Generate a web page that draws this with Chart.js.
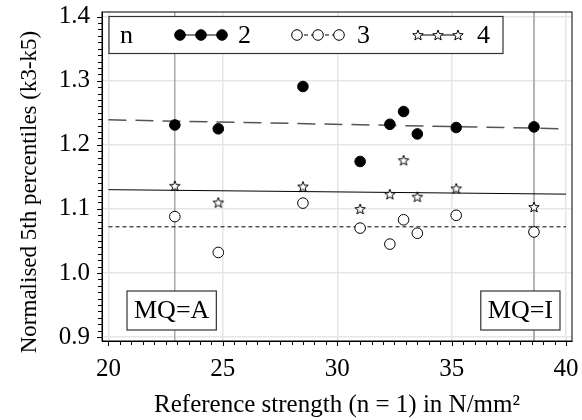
<!DOCTYPE html>
<html>
<head>
<meta charset="utf-8">
<script src="https://cdn.jsdelivr.net/npm/chart.js@4.4.1/dist/chart.umd.min.js"></script>
<style>
  html, body { margin: 0; padding: 0; background: #fff; }
  #wrap { width: 582px; height: 420px; }
</style>
</head>
<body>
<div id="wrap"><canvas id="chart" width="582" height="420"></canvas></div>
<script>
// reference strength (x) for each test series
const strength = [22.9, 24.8, 28.5, 31.0, 32.3, 32.9, 33.5, 35.2, 38.6];
// normalised 5th percentiles for n = 2, 3, 4
const n2 = [1.231, 1.225, 1.291, 1.174, 1.232, 1.252, 1.217, 1.227, 1.228];
const n3 = [1.088, 1.032, 1.109, 1.070, 1.045, 1.083, 1.062, 1.090, 1.064];
const n4 = [1.136, 1.110, 1.135, 1.100, 1.123, 1.176, 1.119, 1.132, 1.103];
// fitted trend lines
const fitX = [20, 40];
const fit2 = [1.239, 1.225];
const fit3 = [1.072, 1.072];
const fit4 = [1.130, 1.123];
// axis ticks
const xTicks = [20, 25, 30, 35, 40];
const yTicks = [0.9, 1.0, 1.1, 1.2, 1.3, 1.4];
// machine grade markers
const mqX = [22.9, 38.6];
const mqLabels = ['MQ=A', 'MQ=I'];
const legendLabels = ['n', '2', '3', '4'];
const yTitle = 'Normalised 5th percentiles (k3-k5)';

const FONT = '"Liberation Serif", "Times New Roman", serif';

function pts(xs, ys) {
  return xs.map((x, i) => ({ x: x, y: ys[i] }));
}

// 5 point outline star used as point style
function makeStar(r) {
  const c = document.createElement('canvas');
  const s = Math.ceil(r * 2 + 3);
  c.width = s; c.height = s;
  const g = c.getContext('2d');
  starPath(g, s / 2, s / 2 + 0.5, r);
  g.fillStyle = '#fff';
  g.fill();
  g.strokeStyle = '#000';
  g.lineWidth = 1;
  g.stroke();
  return c;
}

function starPath(g, cx, cy, r) {
  g.beginPath();
  for (let i = 0; i < 10; i++) {
    const rad = i % 2 === 0 ? r : r * 0.42;
    const a = -Math.PI / 2 + i * Math.PI / 5;
    const px = cx + rad * Math.cos(a);
    const py = cy + rad * Math.sin(a);
    if (i === 0) g.moveTo(px, py); else g.lineTo(px, py);
  }
  g.closePath();
}

const star = makeStar(5.5);

function drawMarker(ctx, kind, x, y) {
  if (kind === 'star') {
    ctx.drawImage(star, x - star.width / 2, y - star.height / 2);
    return;
  }
  ctx.beginPath();
  ctx.arc(x, y, 5.3, 0, Math.PI * 2);
  ctx.fillStyle = kind === 'filled' ? '#000' : '#fff';
  ctx.fill();
  ctx.strokeStyle = '#000';
  ctx.lineWidth = 1;
  ctx.stroke();
}

// drop the automatic label overflow padding so the plot area keeps its size
function noPad(scale) {
  scale.paddingTop = 0;
  scale.paddingBottom = 0;
  scale.paddingLeft = 0;
  scale.paddingRight = 0;
}

const extras = {
  id: 'extras',
  beforeDatasetsDraw(chart) {
    const { ctx, chartArea: ca, scales } = chart;
    ctx.save();
    // vertical MQ reference lines
    mqX.forEach((v, i) => {
      const px = scales.x.getPixelForValue(v);
      ctx.strokeStyle = i === 0 ? '#808080' : '#b4b4b4';
      ctx.lineWidth = i === 0 ? 1 : 2;
      ctx.beginPath();
      ctx.moveTo(px, ca.top);
      ctx.lineTo(px, ca.bottom);
      ctx.stroke();
    });
    ctx.restore();
  },
  afterDatasetsDraw(chart) {
    const { ctx, chartArea: ca, scales } = chart;
    ctx.save();

    // frame
    ctx.strokeStyle = '#000';
    ctx.lineWidth = 1;
    ctx.strokeRect(ca.left, ca.top, ca.right - ca.left, ca.bottom - ca.top);

    // tick marks (major + minor)
    ctx.beginPath();
    for (let i = 0; i <= 40; i++) {
      const v = 20 + i * 0.5;
      const px = Math.round(scales.x.getPixelForValue(v)) + 0.5;
      ctx.moveTo(px, ca.bottom);
      ctx.lineTo(px, ca.bottom + (i % 10 === 0 ? 5 : 4));
    }
    for (let i = 0; i <= 50; i++) {
      const v = 0.9 + i * 0.01;
      const py = Math.round(scales.y.getPixelForValue(v)) + 0.5;
      ctx.moveTo(ca.left, py);
      ctx.lineTo(ca.left - (i % 10 === 0 ? 5 : 4), py);
    }
    ctx.stroke();

    ctx.textBaseline = 'middle';

    // y axis title
    ctx.save();
    ctx.font = '23px ' + FONT;
    ctx.fillStyle = '#000';
    ctx.textAlign = 'center';
    ctx.translate(30, 192);
    ctx.rotate(-Math.PI / 2);
    ctx.fillText(yTitle, 0, 0);
    ctx.restore();

    // MQ label boxes
    ctx.font = '26px ' + FONT;
    mqLabels.forEach((t, i) => {
      const w = ctx.measureText(t).width + 14;
      const h = 39;
      const left = i === 0 ? ca.left + 25 : ca.right - 12 - w;
      const top = ca.bottom - 11 - h;
      ctx.fillStyle = '#fff';
      ctx.fillRect(left, top, w, h);
      ctx.strokeStyle = '#333';
      ctx.lineWidth = 1.2;
      ctx.strokeRect(left, top, w, h);
      ctx.fillStyle = '#000';
      ctx.textAlign = 'center';
      ctx.fillText(t, left + w / 2, top + h / 2 + 1);
    });

    // legend box
    const lx = ca.left + 7, ly = ca.top + 4.5, lw = 394, lh = 37;
    const cy = ly + lh / 2;
    ctx.fillStyle = '#fff';
    ctx.fillRect(lx, ly, lw, lh);
    ctx.strokeStyle = '#333';
    ctx.lineWidth = 1.2;
    ctx.strokeRect(lx, ly, lw, lh);
    ctx.fillStyle = '#000';
    ctx.textAlign = 'left';
    ctx.fillText(legendLabels[0], lx + 11, cy + 1);

    const groups = [
      { kind: 'filled', xs: [71, 92, 113], dash: [], label: legendLabels[1], tx: 129 },
      { kind: 'open', xs: [188, 209, 230], dash: [4, 3], label: legendLabels[2], tx: 248 },
      { kind: 'star', xs: [309, 329, 349], dash: [], label: legendLabels[3], tx: 368 }
    ];
    groups.forEach(g => {
      ctx.strokeStyle = '#000';
      ctx.lineWidth = 1;
      ctx.setLineDash(g.dash);
      ctx.beginPath();
      ctx.moveTo(lx + g.xs[0], cy);
      ctx.lineTo(lx + g.xs[2], cy);
      ctx.stroke();
      ctx.setLineDash([]);
      g.xs.forEach(x => drawMarker(ctx, g.kind, lx + x, cy));
      ctx.fillStyle = '#000';
      ctx.fillText(g.label, lx + g.tx, cy + 1);
    });

    ctx.restore();
  }
};

new Chart(document.getElementById('chart'), {
  type: 'scatter',
  data: {
    datasets: [
      {
        label: '2',
        data: pts(strength, n2),
        pointStyle: 'circle',
        pointRadius: 5.3,
        backgroundColor: '#000',
        borderColor: '#000',
        borderWidth: 1,
      },
      {
        label: '3',
        data: pts(strength, n3),
        pointStyle: 'circle',
        pointRadius: 5.3,
        backgroundColor: '#fff',
        borderColor: '#000',
        borderWidth: 1,
      },
      {
        label: '4',
        data: pts(strength, n4),
        pointStyle: star,
        pointRadius: 5,
      },
      {
        label: 'fit 2',
        data: pts(fitX, fit2),
        showLine: true,
        pointRadius: 0,
        borderColor: '#555',
        borderWidth: 1.5,
        borderDash: [18, 9],
      },
      {
        label: 'fit 3',
        data: pts(fitX, fit3),
        showLine: true,
        pointRadius: 0,
        borderColor: '#000',
        borderWidth: 1,
        borderDash: [4, 3],
      },
      {
        label: 'fit 4',
        data: pts(fitX, fit4),
        showLine: true,
        pointRadius: 0,
        borderColor: '#000',
        borderWidth: 1,
      },
    ],
  },
  options: {
    responsive: false,
    animation: false,
    devicePixelRatio: 1,
    layout: { padding: { top: 12, right: 10, left: 0, bottom: 0 } },
    plugins: {
      legend: { display: false },
      tooltip: { enabled: false },
    },
    scales: {
      x: {
        type: 'linear',
        min: 19.716,
        max: 40.262,
        afterBuildTicks: (scale) => {
          scale.ticks = xTicks.map((v) => ({ value: v }));
        },
        afterFit: (scale) => {
          scale.height = 79;
          noPad(scale);
        },
        grid: {
          color: '#e6e6e6',
          lineWidth: 1.5,
          drawTicks: false,
        },
        border: { display: true, color: '#000', width: 1 },
        ticks: {
          padding: 13,
          color: '#000',
          maxRotation: 0,
          font: { family: FONT, size: 25 },
          callback: (v) => v,
        },
        title: {
          display: true,
          text: 'Reference strength (n = 1) in N/mm²',
          color: '#000',
          font: { family: FONT, size: 25 },
          padding: { top: 0, bottom: 0 },
        },
      },
      y: {
        min: 0.8938,
        max: 1.4073,
        afterBuildTicks: (scale) => {
          scale.ticks = yTicks.map((v) => ({ value: v }));
        },
        afterFit: (scale) => {
          scale.width = 102;
          noPad(scale);
        },
        grid: {
          color: '#e6e6e6',
          lineWidth: 1.5,
          drawTicks: false,
        },
        border: { display: true, color: '#000', width: 1 },
        ticks: {
          padding: 12,
          color: '#000',
          font: { family: FONT, size: 25 },
          callback: (v) => v.toFixed(1),
        },
        title: { display: false },
      },
    },
  },
  plugins: [extras],
});
</script>
</body>
</html>
